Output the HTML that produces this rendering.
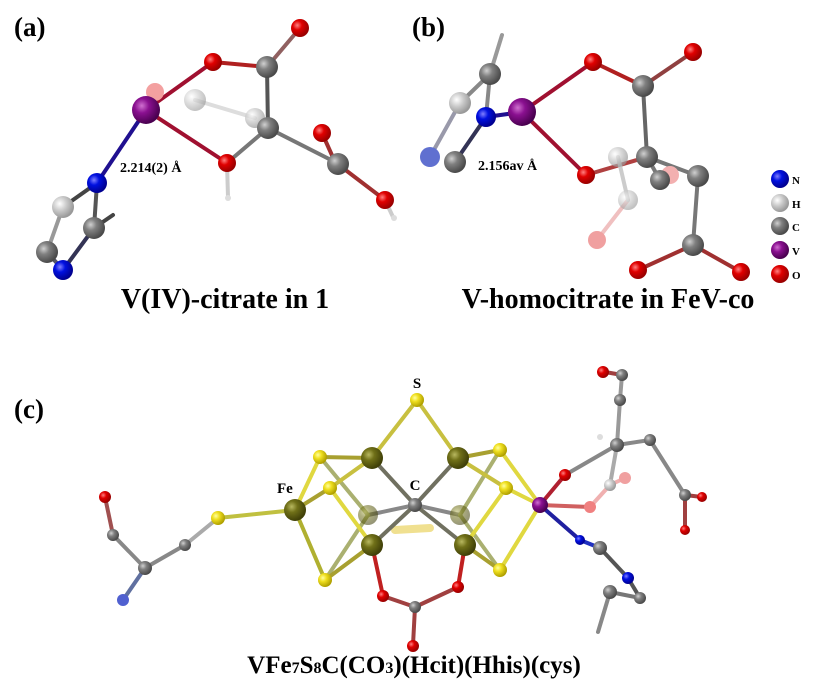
<!DOCTYPE html>
<html><head><meta charset="utf-8"><style>
html,body{margin:0;padding:0;background:#fff;}
svg{display:block;}
text{font-family:"Liberation Serif",serif;font-weight:bold;fill:#000;}
</style></head><body>
<svg width="817" height="686" viewBox="0 0 817 686" xmlns="http://www.w3.org/2000/svg">
<defs>
<radialGradient id="gr" cx="35%" cy="35%" r="65%"><stop offset="0" stop-color="#ff8080"/><stop offset=".4" stop-color="#e00000"/><stop offset="1" stop-color="#900"/></radialGradient>
<radialGradient id="gc" cx="35%" cy="35%" r="65%"><stop offset="0" stop-color="#d0d0d0"/><stop offset=".4" stop-color="#808080"/><stop offset="1" stop-color="#4a4a4a"/></radialGradient>
<radialGradient id="gl" cx="35%" cy="35%" r="65%"><stop offset="0" stop-color="#fff"/><stop offset=".5" stop-color="#c8c8c8"/><stop offset="1" stop-color="#999"/></radialGradient>
<radialGradient id="gn" cx="35%" cy="35%" r="65%"><stop offset="0" stop-color="#8080ff"/><stop offset=".4" stop-color="#0010e0"/><stop offset="1" stop-color="#000090"/></radialGradient>
<radialGradient id="gv" cx="35%" cy="35%" r="65%"><stop offset="0" stop-color="#d070d0"/><stop offset=".4" stop-color="#8a1090"/><stop offset="1" stop-color="#4a0050"/></radialGradient>
<radialGradient id="gf" cx="35%" cy="35%" r="65%"><stop offset="0" stop-color="#b8b860"/><stop offset=".4" stop-color="#707018"/><stop offset="1" stop-color="#404008"/></radialGradient>
<radialGradient id="gs" cx="35%" cy="35%" r="65%"><stop offset="0" stop-color="#ffffa0"/><stop offset=".4" stop-color="#f0e020"/><stop offset="1" stop-color="#b0a000"/></radialGradient>
</defs>

<!-- Panel a -->
<text x="14" y="36" font-size="27">(a)</text>
<g stroke-width="4" stroke-linecap="round">
<line x1="146" y1="110" x2="213" y2="62" stroke="#a01030"/>
<line x1="146" y1="110" x2="227" y2="163" stroke="#a01030"/>
<line x1="146" y1="110" x2="97" y2="183" stroke="#201090"/>
<line x1="195" y1="100" x2="255" y2="118" stroke="#ddd"/>
<line x1="213" y1="62" x2="267" y2="67" stroke="#b02020"/>
<line x1="267" y1="67" x2="300" y2="28" stroke="#906060"/>
<line x1="267" y1="67" x2="268" y2="128" stroke="#555"/>
<line x1="268" y1="128" x2="227" y2="163" stroke="#777"/>
<line x1="268" y1="128" x2="335" y2="162" stroke="#777"/>
<line x1="335" y1="162" x2="322" y2="133" stroke="#a03030"/>
<line x1="335" y1="162" x2="385" y2="200" stroke="#a03030"/>
<line x1="385" y1="200" x2="393" y2="217" stroke="#ccc"/>
<line x1="227" y1="163" x2="228" y2="197" stroke="#ccc"/>
<line x1="97" y1="183" x2="63" y2="207" stroke="#444"/>
<line x1="97" y1="183" x2="94" y2="228" stroke="#555"/>
<line x1="94" y1="228" x2="113" y2="215" stroke="#444"/>
<line x1="63" y1="207" x2="47" y2="252" stroke="#999"/>
<line x1="94" y1="228" x2="63" y2="270" stroke="#335"/>
<line x1="47" y1="252" x2="63" y2="270" stroke="#556"/>
</g>
<circle cx="155" cy="92" r="9" fill="#f3a0a0"/>
<circle cx="195" cy="100" r="11" fill="url(#gl)" opacity=".6"/>
<circle cx="255" cy="118" r="10" fill="url(#gl)" opacity=".7"/>
<circle cx="146" cy="110" r="14" fill="url(#gv)"/>
<circle cx="213" cy="62" r="9" fill="url(#gr)"/>
<circle cx="267" cy="67" r="11" fill="url(#gc)"/>
<circle cx="300" cy="28" r="9" fill="url(#gr)"/>
<circle cx="268" cy="128" r="11" fill="url(#gc)"/>
<circle cx="227" cy="163" r="9" fill="url(#gr)"/>
<circle cx="228" cy="198" r="3" fill="#ddd"/>
<circle cx="322" cy="133" r="9" fill="url(#gr)"/>
<circle cx="338" cy="164" r="11" fill="url(#gc)"/>
<circle cx="385" cy="200" r="9" fill="url(#gr)"/>
<circle cx="394" cy="218" r="3" fill="#ddd"/>
<circle cx="97" cy="183" r="10" fill="url(#gn)"/>
<circle cx="63" cy="207" r="11" fill="url(#gl)"/>
<circle cx="94" cy="228" r="11" fill="url(#gc)"/>
<circle cx="47" cy="252" r="11" fill="url(#gc)"/>
<circle cx="63" cy="270" r="10" fill="url(#gn)"/>
<text x="120" y="172" font-size="14">2.214(2) Å</text>
<text x="225" y="308" font-size="28" text-anchor="middle">V(IV)-citrate in 1</text>

<!-- Panel b -->
<text x="412" y="36" font-size="27">(b)</text>
<g stroke-width="4" stroke-linecap="round">
<line x1="522" y1="112" x2="593" y2="62" stroke="#a01030"/>
<line x1="522" y1="112" x2="586" y2="175" stroke="#a01030"/>
<line x1="522" y1="112" x2="486" y2="117" stroke="#201090"/>
<line x1="490" y1="74" x2="502" y2="35" stroke="#999"/>
<line x1="490" y1="74" x2="460" y2="103" stroke="#888"/>
<line x1="490" y1="74" x2="486" y2="117" stroke="#888"/>
<line x1="460" y1="103" x2="430" y2="157" stroke="#99a"/>
<line x1="486" y1="117" x2="455" y2="162" stroke="#335"/>
<line x1="593" y1="62" x2="643" y2="86" stroke="#b02020"/>
<line x1="643" y1="86" x2="693" y2="52" stroke="#904040"/>
<line x1="643" y1="86" x2="647" y2="157" stroke="#666"/>
<line x1="586" y1="175" x2="647" y2="157" stroke="#b04040"/>
<line x1="647" y1="157" x2="698" y2="176" stroke="#777"/>
<line x1="647" y1="157" x2="660" y2="180" stroke="#777"/>
<line x1="698" y1="176" x2="693" y2="245" stroke="#777"/>
<line x1="693" y1="245" x2="638" y2="270" stroke="#a03030"/>
<line x1="693" y1="245" x2="741" y2="272" stroke="#a03030"/>
<line x1="628" y1="200" x2="597" y2="240" stroke="#f0c0c0"/>
<line x1="628" y1="200" x2="618" y2="157" stroke="#ccc"/>
</g>
<circle cx="670" cy="175" r="9" fill="#f3b0b0"/>
<circle cx="618" cy="157" r="10" fill="url(#gl)" opacity=".7"/>
<circle cx="628" cy="200" r="10" fill="url(#gl)" opacity=".6"/>
<circle cx="597" cy="240" r="9" fill="#f0a0a0"/>
<circle cx="660" cy="180" r="10" fill="url(#gc)"/>
<circle cx="522" cy="112" r="14" fill="url(#gv)"/>
<circle cx="490" cy="74" r="11" fill="url(#gc)"/>
<circle cx="460" cy="103" r="11" fill="url(#gl)"/>
<circle cx="486" cy="117" r="10" fill="url(#gn)"/>
<circle cx="430" cy="157" r="10" fill="#6070d0"/>
<circle cx="455" cy="162" r="11" fill="url(#gc)"/>
<circle cx="593" cy="62" r="9" fill="url(#gr)"/>
<circle cx="693" cy="52" r="9" fill="url(#gr)"/>
<circle cx="643" cy="86" r="11" fill="url(#gc)"/>
<circle cx="647" cy="157" r="11" fill="url(#gc)"/>
<circle cx="586" cy="175" r="9" fill="url(#gr)"/>
<circle cx="698" cy="176" r="11" fill="url(#gc)"/>
<circle cx="693" cy="245" r="11" fill="url(#gc)"/>
<circle cx="638" cy="270" r="9" fill="url(#gr)"/>
<circle cx="741" cy="272" r="9" fill="url(#gr)"/>
<text x="478" y="170" font-size="14">2.156av Å</text>
<text x="608" y="308" font-size="28" text-anchor="middle">V-homocitrate in FeV-co</text>
<!-- legend -->
<circle cx="780" cy="179" r="9" fill="url(#gn)"/><text x="792" y="184" font-size="11">N</text>
<circle cx="780" cy="203" r="9" fill="url(#gl)"/><text x="792" y="208" font-size="11">H</text>
<circle cx="780" cy="226" r="9" fill="url(#gc)"/><text x="792" y="231" font-size="11">C</text>
<circle cx="780" cy="250" r="9" fill="url(#gv)"/><text x="792" y="255" font-size="11">V</text>
<circle cx="780" cy="274" r="9" fill="url(#gr)"/><text x="792" y="279" font-size="11">O</text>

<!-- Panel c -->
<text x="14" y="418" font-size="27">(c)</text>
<g stroke-width="4" stroke-linecap="round">
<line x1="368" y1="515" x2="415" y2="505" stroke="#888"/>
<line x1="460" y1="515" x2="415" y2="505" stroke="#888"/>
<line x1="368" y1="515" x2="320" y2="457" stroke="#aab070"/>
<line x1="460" y1="515" x2="500" y2="450" stroke="#aab070"/>
<line x1="368" y1="515" x2="325" y2="580" stroke="#aab070"/>
<line x1="460" y1="515" x2="500" y2="570" stroke="#aab070"/>
<line x1="395" y1="530" x2="430" y2="528" stroke="#f0e090" stroke-width="8"/>
<line x1="417" y1="400" x2="372" y2="458" stroke="#c8c040"/>
<line x1="417" y1="400" x2="458" y2="458" stroke="#c8c040"/>
<line x1="320" y1="457" x2="372" y2="458" stroke="#a8a030"/>
<line x1="500" y1="450" x2="458" y2="458" stroke="#a8a030"/>
<line x1="320" y1="457" x2="295" y2="510" stroke="#e0d840"/>
<line x1="330" y1="488" x2="372" y2="458" stroke="#c8c040"/>
<line x1="330" y1="488" x2="295" y2="510" stroke="#a8a030"/>
<line x1="330" y1="488" x2="372" y2="545" stroke="#e0d840"/>
<line x1="506" y1="488" x2="458" y2="458" stroke="#c8c040"/>
<line x1="506" y1="488" x2="465" y2="545" stroke="#e0d840"/>
<line x1="295" y1="510" x2="325" y2="580" stroke="#b0b030"/>
<line x1="325" y1="580" x2="372" y2="545" stroke="#a8a030"/>
<line x1="500" y1="570" x2="465" y2="545" stroke="#a8a030"/>
<line x1="500" y1="570" x2="540" y2="505" stroke="#e0d840"/>
<line x1="500" y1="450" x2="540" y2="505" stroke="#e0d840"/>
<line x1="506" y1="488" x2="540" y2="505" stroke="#e0d840"/>
<line x1="415" y1="505" x2="372" y2="458" stroke="#707060"/>
<line x1="415" y1="505" x2="458" y2="458" stroke="#707060"/>
<line x1="415" y1="505" x2="372" y2="545" stroke="#707060"/>
<line x1="415" y1="505" x2="465" y2="545" stroke="#707060"/>
<line x1="295" y1="510" x2="218" y2="518" stroke="#c0c040"/>
<line x1="218" y1="518" x2="185" y2="545" stroke="#aaa"/>
<line x1="185" y1="545" x2="145" y2="568" stroke="#888"/>
<line x1="145" y1="568" x2="113" y2="535" stroke="#888"/>
<line x1="113" y1="535" x2="105" y2="497" stroke="#a05050"/>
<line x1="145" y1="568" x2="123" y2="600" stroke="#6070a0"/>
<line x1="372" y1="545" x2="383" y2="596" stroke="#c02020"/>
<line x1="465" y1="545" x2="458" y2="587" stroke="#c02020"/>
<line x1="383" y1="596" x2="415" y2="607" stroke="#a04040"/>
<line x1="458" y1="587" x2="415" y2="607" stroke="#a04040"/>
<line x1="415" y1="607" x2="413" y2="645" stroke="#a04040"/>
<line x1="540" y1="505" x2="580" y2="540" stroke="#2020a0"/>
<line x1="540" y1="505" x2="565" y2="475" stroke="#b02030"/>
<line x1="540" y1="505" x2="590" y2="507" stroke="#d06060"/>
<line x1="580" y1="540" x2="600" y2="548" stroke="#2030c0"/>
<line x1="600" y1="548" x2="628" y2="578" stroke="#555"/>
<line x1="628" y1="578" x2="640" y2="598" stroke="#555"/>
<line x1="610" y1="592" x2="640" y2="598" stroke="#777"/>
<line x1="610" y1="592" x2="598" y2="632" stroke="#888"/>
<line x1="565" y1="475" x2="617" y2="445" stroke="#888"/>
<line x1="617" y1="445" x2="650" y2="440" stroke="#888"/>
<line x1="650" y1="440" x2="685" y2="495" stroke="#888"/>
<line x1="685" y1="495" x2="702" y2="497" stroke="#a04040"/>
<line x1="685" y1="495" x2="685" y2="530" stroke="#a04040"/>
<line x1="617" y1="445" x2="610" y2="485" stroke="#aaa"/>
<line x1="610" y1="485" x2="590" y2="507" stroke="#f0b0b0"/>
<line x1="610" y1="485" x2="625" y2="478" stroke="#f0b0b0"/>
<line x1="617" y1="445" x2="620" y2="400" stroke="#999"/>
<line x1="620" y1="400" x2="622" y2="375" stroke="#999"/>
<line x1="622" y1="375" x2="605" y2="372" stroke="#a04040"/>
</g>
<circle cx="368" cy="515" r="10" fill="url(#gf)" opacity=".55"/>
<circle cx="460" cy="515" r="10" fill="url(#gf)" opacity=".55"/>
<circle cx="417" cy="400" r="7" fill="url(#gs)"/>
<circle cx="320" cy="457" r="7" fill="url(#gs)"/>
<circle cx="330" cy="488" r="7" fill="url(#gs)"/>
<circle cx="500" cy="450" r="7" fill="url(#gs)"/>
<circle cx="506" cy="488" r="7" fill="url(#gs)"/>
<circle cx="325" cy="580" r="7" fill="url(#gs)"/>
<circle cx="500" cy="570" r="7" fill="url(#gs)"/>
<circle cx="218" cy="518" r="7" fill="url(#gs)"/>
<circle cx="372" cy="458" r="11" fill="url(#gf)"/>
<circle cx="458" cy="458" r="11" fill="url(#gf)"/>
<circle cx="295" cy="510" r="11" fill="url(#gf)"/>
<circle cx="372" cy="545" r="11" fill="url(#gf)"/>
<circle cx="465" cy="545" r="11" fill="url(#gf)"/>
<circle cx="415" cy="505" r="7" fill="url(#gc)"/>
<circle cx="540" cy="505" r="8" fill="url(#gv)"/>
<circle cx="185" cy="545" r="6" fill="url(#gc)"/>
<circle cx="145" cy="568" r="7" fill="url(#gc)"/>
<circle cx="113" cy="535" r="6" fill="url(#gc)"/>
<circle cx="105" cy="497" r="6" fill="url(#gr)"/>
<circle cx="123" cy="600" r="6" fill="#5060d0"/>
<circle cx="383" cy="596" r="6" fill="url(#gr)"/>
<circle cx="458" cy="587" r="6" fill="url(#gr)"/>
<circle cx="415" cy="607" r="6" fill="url(#gc)"/>
<circle cx="413" cy="646" r="6" fill="url(#gr)"/>
<circle cx="565" cy="475" r="6" fill="url(#gr)"/>
<circle cx="600" cy="437" r="3" fill="#ddd"/>
<circle cx="617" cy="445" r="7" fill="url(#gc)"/>
<circle cx="650" cy="440" r="6" fill="url(#gc)"/>
<circle cx="685" cy="495" r="6" fill="url(#gc)"/>
<circle cx="702" cy="497" r="5" fill="url(#gr)"/>
<circle cx="685" cy="530" r="5" fill="url(#gr)"/>
<circle cx="610" cy="485" r="6" fill="url(#gl)"/>
<circle cx="625" cy="478" r="6" fill="#f0a0a0"/>
<circle cx="590" cy="507" r="6" fill="#f08080"/>
<circle cx="620" cy="400" r="6" fill="url(#gc)"/>
<circle cx="622" cy="375" r="6" fill="url(#gc)"/>
<circle cx="603" cy="372" r="6" fill="url(#gr)"/>
<circle cx="580" cy="540" r="5" fill="url(#gn)"/>
<circle cx="600" cy="548" r="7" fill="url(#gc)"/>
<circle cx="628" cy="578" r="6" fill="url(#gn)"/>
<circle cx="640" cy="598" r="6" fill="url(#gc)"/>
<circle cx="610" cy="592" r="7" fill="url(#gc)"/>
<text x="417" y="388" font-size="15" text-anchor="middle">S</text>
<text x="415" y="490" font-size="15" text-anchor="middle">C</text>
<text x="277" y="493" font-size="15">Fe</text>
<text x="414" y="673" font-size="25" text-anchor="middle">VFe<tspan font-size="16">7</tspan>S<tspan font-size="16">8</tspan>C(CO<tspan font-size="16">3</tspan>)(Hcit)(Hhis)(cys)</text>
</svg>
</body></html>
